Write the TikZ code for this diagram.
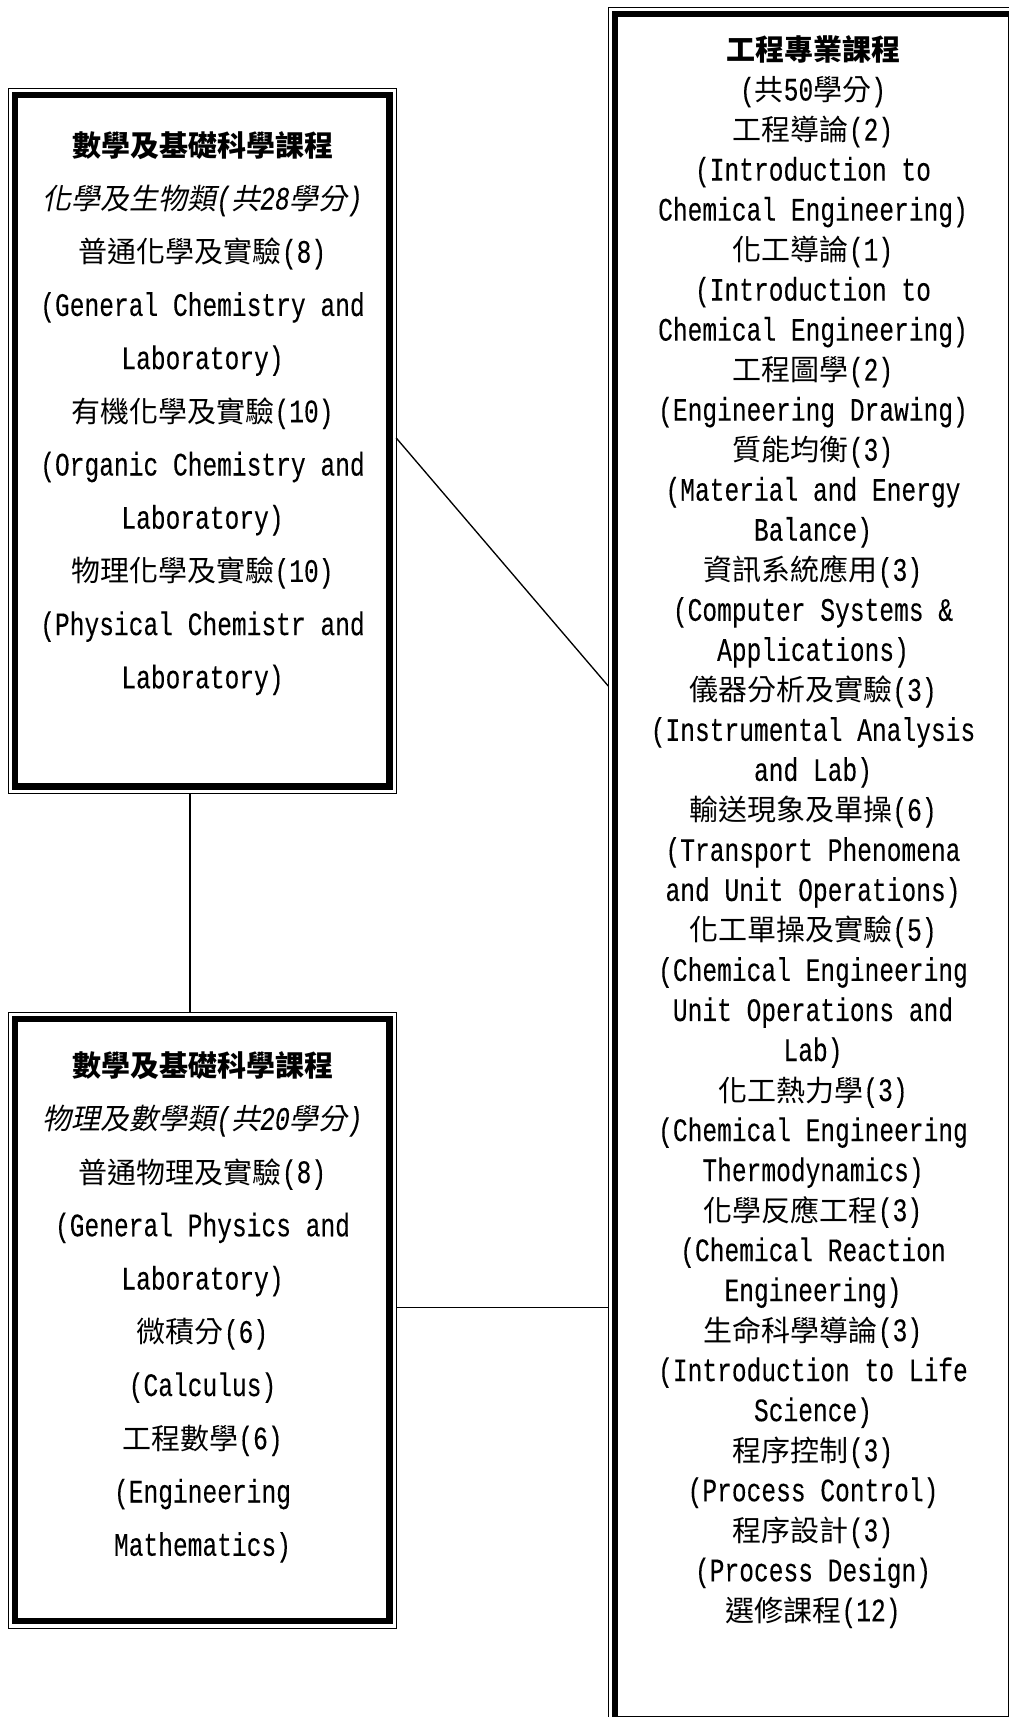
\documentclass[tikz,border=0pt]{standalone}
\usepackage{fontspec}
\setmainfont[FakeStretch=0.75, Scale=1.13, FakeBold=0.15]{Liberation Mono}
\newfontfamily\zhfont{Noto Sans CJK TC}
\newfontfamily\zhitfont[FakeSlant=0.2]{Noto Sans CJK TC}
\newcommand\cjktxt[1]{{\zhfont #1}}
\newcommand\cjkit[1]{{\zhitfont #1}}
\usetikzlibrary{calc}
\begin{document}
\begin{tikzpicture}[x=0.75pt,y=-0.75pt,
  every node/.style={inner sep=0pt, outer sep=0pt},
  framebox/.style={draw, line width=0.8pt},
  thickframe/.style={line width=4.7pt},
  link/.style={line width=1pt},
  txt/.style={anchor=base, font=\fontsize{21.75pt}{26pt}\selectfont},
]
\fill[white] (0,0) rectangle (1008,1717);
\useasboundingbox (0,0) rectangle (1008,1717);

% boxes
\node[framebox, minimum width=290.8pt, minimum height=528.75pt] (mtop) at (202.2,440.8) {};
\node[framebox, minimum width=290.8pt, minimum height=461.8pt] (mbot) at (202.2,1320.15) {};
\node[framebox, minimum width=307.05pt, minimum height=1288.8pt] (eng) at (813,866.5) {};
\foreach \n in {mtop,mbot,eng}
  \draw[thickframe] ([shift={(6.7,6.7)}]\n.north west) rectangle ([shift={(-6.7,-6.7)}]\n.south east);

% connectors
\coordinate (d1) at ([shift={(0,-3)}]mtop.east);
\coordinate (d2) at ($(eng.north west)!0.395!(eng.south west)$);
\draw[link] (d1) -- (d2);
\draw[link] ([shift={(-12.2,0)}]mtop.south) -- ([shift={(-12.2,0)}]mbot.north);
\coordinate (h1) at ([shift={(0,-13)}]mbot.east);
\draw[link] (h1) -- (h1 -| eng.west);

% left top text
\foreach \t [count=\i from 0] in {
  {\cjktxt{\bfseries 數學及基礎科學課程}},
  {\cjkit{化學及生物類}\textit{(}\cjkit{共}\textit{28}\cjkit{學分}\textit{)}},
  {\cjktxt{普通化學及實驗}(8)},
  {(General Chemistry and},
  {Laboratory)},
  {\cjktxt{有機化學及實驗}(10)},
  {(Organic Chemistry and},
  {Laboratory)},
  {\cjktxt{物理化學及實驗}(10)},
  {(Physical Chemistr and},
  {Laboratory)}}
  \node[txt] (lt\i) at (202.5,{156.3+53.2*\i}) {\t};

% left bottom text
\foreach \t [count=\i from 0] in {
  {\cjktxt{\bfseries 數學及基礎科學課程}},
  {\cjkit{物理及數學類}\textit{(}\cjkit{共}\textit{20}\cjkit{學分}\textit{)}},
  {\cjktxt{普通物理及實驗}(8)},
  {(General Physics and},
  {Laboratory)},
  {\cjktxt{微積分}(6)},
  {(Calculus)},
  {\cjktxt{工程數學}(6)},
  {(Engineering},
  {Mathematics)}}
  \node[txt] (lb\i) at (202.5,{1076.5+53.25*\i}) {\t};

% right text
\foreach \t [count=\i from 0] in {
  {\cjktxt{\bfseries 工程專業課程}},
  {(\cjktxt{共}50\cjktxt{學分})},
  {\cjktxt{工程導論}(2)},
  {(Introduction to},
  {Chemical Engineering)},
  {\cjktxt{化工導論}(1)},
  {(Introduction to},
  {Chemical Engineering)},
  {\cjktxt{工程圖學}(2)},
  {(Engineering Drawing)},
  {\cjktxt{質能均衡}(3)},
  {(Material and Energy},
  {Balance)},
  {\cjktxt{資訊系統應用}(3)},
  {(Computer Systems \&},
  {Applications)},
  {\cjktxt{儀器分析及實驗}(3)},
  {(Instrumental Analysis},
  {and Lab)},
  {\cjktxt{輸送現象及單操}(6)},
  {(Transport Phenomena},
  {and Unit Operations)},
  {\cjktxt{化工單操及實驗}(5)},
  {(Chemical Engineering},
  {Unit Operations and},
  {Lab)},
  {\cjktxt{化工熱力學}(3)},
  {(Chemical Engineering},
  {Thermodynamics)},
  {\cjktxt{化學反應工程}(3)},
  {(Chemical Reaction},
  {Engineering)},
  {\cjktxt{生命科學導論}(3)},
  {(Introduction to Life},
  {Science)},
  {\cjktxt{程序控制}(3)},
  {(Process Control)},
  {\cjktxt{程序設計}(3)},
  {(Process Design)},
  {\cjktxt{選修課程}(12)}}
  \node[txt] (r\i) at (813,{60.5+40.02*\i}) {\t};
\end{tikzpicture}
\end{document}
